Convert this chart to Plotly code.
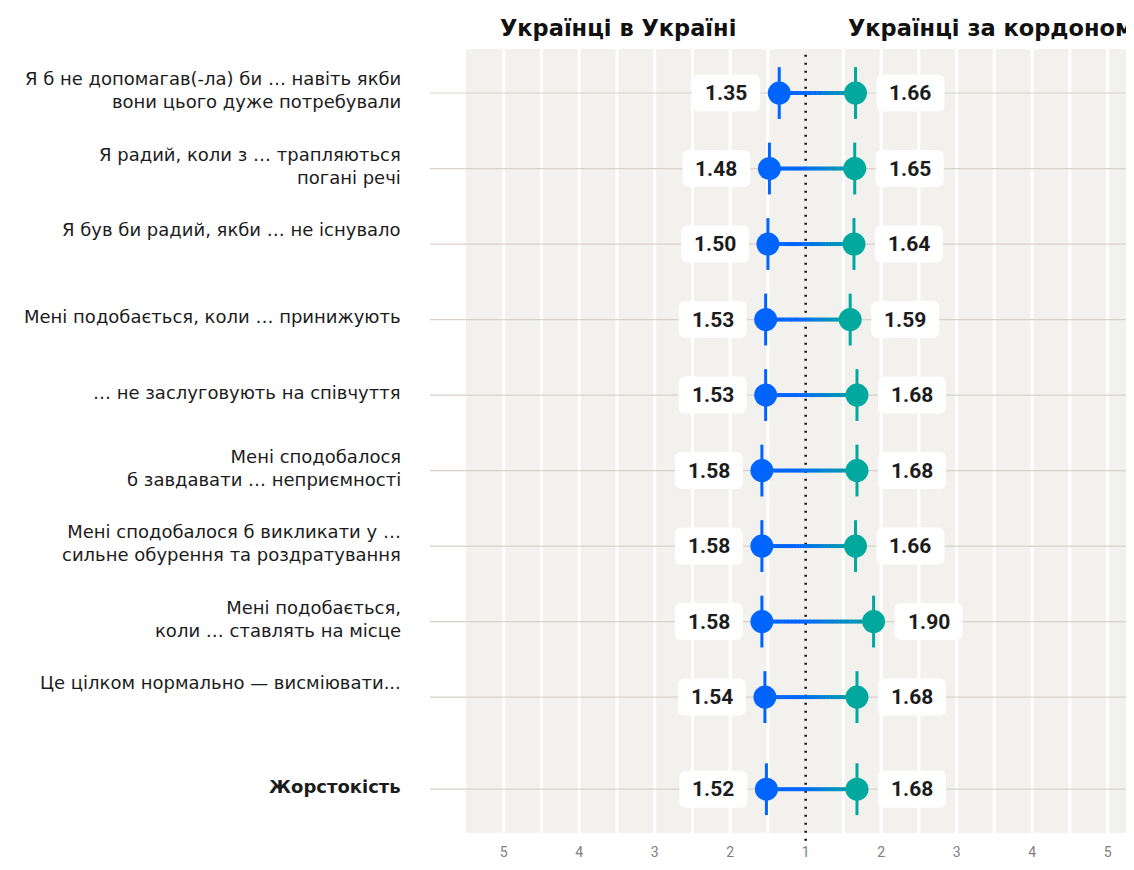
import plotly.graph_objects as go

# ---------------- data ----------------
categories = [
    "Я б не допомагав(-ла) би … навіть якби<br>вони цього дуже потребували",
    "Я радий, коли з … трапляються<br>погані речі",
    "Я був би радий, якби … не існувало<br> ",
    "Мені подобається, коли … принижують",
    "… не заслуговують на співчуття",
    "Мені сподобалося<br>б завдавати … неприємності",
    "Мені сподобалося б викликати у …<br>сильне обурення та роздратування",
    "Мені подобається,<br>коли … ставлять на місце",
    "Це цілком нормально — висміювати...<br> ",
    "<b>Жорстокість</b>",
]
series_names = ["Українці в Україні", "Українці за кордоном"]
ukraine = [1.35, 1.48, 1.50, 1.53, 1.53, 1.58, 1.58, 1.58, 1.54, 1.52]
abroad = [1.66, 1.65, 1.64, 1.59, 1.68, 1.68, 1.66, 1.90, 1.68, 1.68]
left_ticks = [5, 4, 3, 2]
center_tick = 1
right_ticks = [2, 3, 4, 5]

# ---------------- styling ----------------
BLUE = (0, 100, 255)
TEAL = (0, 168, 157)
BG = "#f2f1ee"
ROWLINE = "#d8d1c9"
TEXT = "#1c1c1c"
LABEL_FONT = "DejaVu Sans"
NUM_FONT = "Roboto"
TITLE_FONT = "DejaVu Sans"

# the page body adds an 8px margin, so the figure is 8px smaller
# and its margins are shifted accordingly
PAGE_OFF = 8

def rgb(c):
    return "rgb(%d,%d,%d)" % c

def left_x(v):
    return -(v - center_tick)

def right_x(v):
    return v - center_tick

n = len(categories)
ypos = [i + (0.22 if i == n - 1 else 0) for i in range(n)]
xl = [left_x(v) for v in ukraine]
xr = [right_x(v) for v in abroad]

fig = go.Figure()

# gradient connector lines
N = 30
for k in range(N):
    t = (k + 0.5) / N
    te = min(max((t - 0.35) / 0.65, 0), 1)
    col = tuple(BLUE[j] + (TEAL[j] - BLUE[j]) * te for j in range(3))
    xs, ys = [], []
    for a, b, y in zip(xl, xr, ypos):
        x0 = a + (b - a) * k / N
        x1 = a + (b - a) * min(k + 1.15, N) / N
        xs += [x0, x1, None]
        ys += [y, y, None]
    fig.add_trace(go.Scatter(x=xs, y=ys, mode="lines",
                             line=dict(color=rgb(col), width=4),
                             hoverinfo="skip", showlegend=False))

# vertical whiskers + circles
for xs, c, name in [(xl, BLUE, series_names[0]), (xr, TEAL, series_names[1])]:
    fig.add_trace(go.Scatter(x=xs, y=ypos, mode="markers",
                             marker=dict(symbol="line-ns", size=37,
                                         line=dict(color=rgb(c), width=3)),
                             hoverinfo="skip", showlegend=False))
    fig.add_trace(go.Scatter(x=xs, y=ypos, mode="markers", name=name,
                             marker=dict(symbol="circle", size=23, color=rgb(c)),
                             showlegend=False))

# dots at the start of row lines
fig.add_trace(go.Scatter(x=[-4.96] * n, y=ypos, mode="markers", cliponaxis=False,
                         marker=dict(size=5, color="#d4cdc5"),
                         hoverinfo="skip", showlegend=False))

shapes = []
# white grid lines every half unit (no line at the centre)
for k in range(-8, 9):
    if k == 0:
        continue
    shapes.append(dict(type="line", xref="x", yref="paper", x0=k * 0.5, x1=k * 0.5,
                       y0=0, y1=1, line=dict(color="white", width=3), layer="below"))
# row lines
for y in ypos:
    shapes.append(dict(type="line", xref="paper", yref="y", x0=-0.054, x1=1,
                       y0=y, y1=y, line=dict(color=ROWLINE, width=1.2), layer="below"))
# dotted centre line
shapes.append(dict(type="line", xref="x", yref="paper", x0=0, x1=0, y0=-0.01, y1=1,
                   line=dict(color="#111111", width=2.5, dash="2px,6px"), layer="below"))

# rounded label boxes
def rbox(cx, w=68, h=37, r=7):
    x0, x1 = cx - w / 2, cx + w / 2
    y0, y1 = -h / 2, h / 2
    return (f"M{x0 + r},{y0} L{x1 - r},{y0} Q{x1},{y0} {x1},{y0 + r} "
            f"L{x1},{y1 - r} Q{x1},{y1} {x1 - r},{y1} L{x0 + r},{y1} "
            f"Q{x0},{y1} {x0},{y1 - r} L{x0},{y0 + r} Q{x0},{y0} {x0 + r},{y0} Z")

LOFF, ROFF = -53, 55
annotations = []
for a, b, y, va, vb in zip(xl, xr, ypos, ukraine, abroad):
    for xx, off, v in [(a, LOFF, va), (b, ROFF, vb)]:
        shapes.append(dict(type="path", xref="x", yref="y", xsizemode="pixel",
                           ysizemode="pixel", xanchor=xx, yanchor=y, path=rbox(off),
                           fillcolor="white", line=dict(width=0), layer="above"))
        annotations.append(dict(x=xx, y=y, xref="x", yref="y", xshift=off,
                                text=f"<b>{v:.2f}</b>", showarrow=False,
                                xanchor="center", yanchor="middle",
                                font=dict(family=NUM_FONT, size=21, color=TEXT)))

# category labels
for cat, y in zip(categories, ypos):
    annotations.append(dict(x=-0.094, y=y, xref="paper", yref="y", text=cat,
                            showarrow=False, xanchor="right", yanchor="middle",
                            align="right", yshift=3,
                            font=dict(family=LABEL_FONT, size=18, color=TEXT)))

# titles
for xx, name in [(-2.48, series_names[0]), (2.45, series_names[1])]:
    annotations.append(dict(x=xx, y=1, xref="x", yref="paper", yshift=21,
                            text=f"<b>{name}</b>", showarrow=False,
                            xanchor="center", yanchor="middle",
                            font=dict(family=TITLE_FONT, size=22.5, color="#111111")))

tickvals = [left_x(t) for t in left_ticks] + [0] + [right_x(t) for t in right_ticks]
ticktext = [str(t) for t in left_ticks] + [str(center_tick)] + [str(t) for t in right_ticks]

fig.update_layout(
    width=1134 - PAGE_OFF, height=870 - 2 * PAGE_OFF,
    margin=dict(l=466 - PAGE_OFF, r=0, t=49 - PAGE_OFF, b=870 - 2 * PAGE_OFF - 784 - (49 - PAGE_OFF),
                autoexpand=False),
    paper_bgcolor="white", plot_bgcolor=BG,
    shapes=shapes, annotations=annotations,
    xaxis=dict(range=[-4.5, 4.35], tickvals=tickvals, ticktext=ticktext,
               showgrid=False, zeroline=False, ticks="", fixedrange=True,
               automargin=False,
               tickfont=dict(family=NUM_FONT, size=14, color="#808080"),
               ticklabelstandoff=9),
    yaxis=dict(range=[9.80, -0.583], showgrid=False, zeroline=False,
               showticklabels=False, ticks="", fixedrange=True, automargin=False),
    showlegend=False,
)

fig.write_html("out.html")
